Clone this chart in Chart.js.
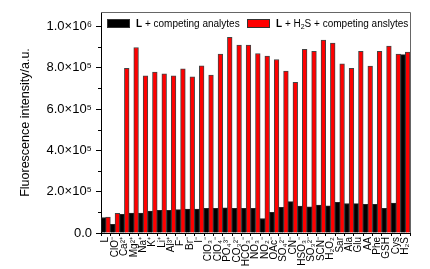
<!DOCTYPE html>
<html>
<head>
<meta charset="utf-8">
<script src="https://cdn.jsdelivr.net/npm/chart.js@4.4.0/dist/chart.umd.min.js"></script>
<style>
  html, body { margin: 0; padding: 0; background: #fff; }
  #chart { display: block; }
</style>
</head>
<body>
<canvas id="chart" width="430" height="269"></canvas>
<script>
// Categories (x axis)
const analytes = ["L", "ClO⁻", "Ca²⁺", "Mg²⁺", "Na⁺", "K⁺", "Li⁺", "Al³⁺", "F⁻", "Br⁻", "I⁻",
  "ClO₃⁻", "ClO₄⁻", "PO₄³⁻", "CO₃²⁻", "HCO₃⁻", "NO₃⁻", "NO₂⁻", "OAc⁻", "SO₄²⁻", "CN⁻",
  "HSO₃⁻", "SO₃²⁻", "SCN⁻", "H₂O₂", "Sar", "Ala", "Glu", "AA", "Phe", "GSH", "Cys", "H₂S"];

// L + competing analytes (black)
const probeOnly = [0.75e5, 0.42e5, 0.90e5, 0.97e5, 0.97e5, 1.06e5, 1.10e5, 1.10e5, 1.13e5, 1.16e5, 1.16e5,
  1.19e5, 1.20e5, 1.22e5, 1.19e5, 1.19e5, 1.19e5, 0.70e5, 1.00e5, 1.24e5, 1.52e5,
  1.30e5, 1.27e5, 1.35e5, 1.32e5, 1.48e5, 1.43e5, 1.42e5, 1.39e5, 1.39e5, 1.19e5, 1.45e5, 8.64e5];

// L + H2S + competing analytes (red)
const probeH2S = [0.77e5, 0.95e5, 7.97e5, 8.98e5, 7.61e5, 7.79e5, 7.71e5, 7.61e5, 7.95e5, 7.56e5, 8.09e5,
  7.64e5, 8.66e5, 9.47e5, 9.10e5, 9.10e5, 8.69e5, 8.56e5, 8.40e5, 7.84e5, 7.29e5,
  8.89e5, 8.79e5, 9.34e5, 9.19e5, 8.19e5, 7.97e5, 8.79e5, 8.08e5, 8.79e5, 9.05e5, 8.66e5, 8.76e5];

// y axis ticks
const yMajorTicks = [0, 2e5, 4e5, 6e5, 8e5, 1e6];
const yMinorTicks = [1e5, 3e5, 5e5, 7e5, 9e5];
const yMax = 1.07e6;

const supDigits = {"0":"⁰","1":"¹","2":"²","3":"³","4":"⁴","5":"⁵","6":"⁶","7":"⁷","8":"⁸","9":"⁹"};

function sciLabel(v) {
  if (v === 0) return "0.0";
  const exp = Math.floor(Math.log10(v) + 1e-9);
  const mant = v / Math.pow(10, exp);
  return mant.toFixed(1) + "×10" + String(exp).split("").map(d => supDigits[d]).join("");
}

// frame, minor ticks and the mixed-font legend
const extrasPlugin = {
  id: "extras",
  afterDraw(chart) {
    const ctx = chart.ctx;
    const a = chart.chartArea;
    const y = chart.scales.y;
    ctx.save();
    // top / right frame
    ctx.strokeStyle = "#666";
    ctx.lineWidth = 1;
    ctx.beginPath();
    ctx.moveTo(a.left, a.top + 0.5);
    ctx.lineTo(a.right + 0.5, a.top + 0.5);
    ctx.lineTo(a.right + 0.5, a.bottom);
    ctx.stroke();
    // minor y ticks
    ctx.strokeStyle = "#000";
    ctx.beginPath();
    yMinorTicks.forEach(v => {
      const py = Math.round(y.getPixelForValue(v)) + 0.5;
      ctx.moveTo(a.left - 3, py);
      ctx.lineTo(a.left, py);
    });
    ctx.stroke();

    // legend
    const boxY = a.top + 7;
    const textY = boxY + 5;
    const fam = "'Liberation Sans', Arial, sans-serif";
    function drawItem(x, color, parts) {
      ctx.fillStyle = color;
      ctx.fillRect(x, boxY, 23, 9);
      ctx.strokeStyle = "#333";
      ctx.strokeRect(x + 0.5, boxY + 0.5, 22, 8);
      let tx = x + 29;
      ctx.fillStyle = "#000";
      ctx.textBaseline = "middle";
      parts.forEach(p => {
        ctx.font = (p.bold ? "bold " : "") + (p.sub ? 7 : 10) + "px " + fam;
        ctx.fillText(p.t, tx, textY + (p.sub ? 3 : 0));
        tx += ctx.measureText(p.t).width;
      });
    }
    drawItem(a.left + 6, "#000", [{t: "L", bold: true}, {t: " + competing analytes"}]);
    drawItem(a.left + 146, "#ff0000", [{t: "L", bold: true}, {t: " + H"}, {t: "2", sub: true}, {t: "S + competing anslytes"}]);
    ctx.restore();
  }
};

new Chart(document.getElementById("chart"), {
  type: "bar",
  data: {
    labels: analytes,
    datasets: [
      {
        label: "L + competing analytes",
        data: probeOnly,
        backgroundColor: "#000000",
        borderColor: "#222222",
        borderWidth: 1,
        categoryPercentage: 1.0,
        barPercentage: 1.0
      },
      {
        label: "L + H₂S + competing anslytes",
        data: probeH2S,
        backgroundColor: "#ff0000",
        borderColor: "#444444",
        borderWidth: 1,
        categoryPercentage: 1.0,
        barPercentage: 1.0
      }
    ]
  },
  options: {
    responsive: false,
    animation: false,
    layout: { padding: { top: 12, right: 20, left: 18, bottom: 0 } },
    plugins: {
      legend: { display: false },
      tooltip: { enabled: false }
    },
    scales: {
      x: {
        offset: true,
        grid: { display: true, drawOnChartArea: false, offset: true, tickLength: 3, color: "#000" },
        border: { color: "#000", width: 1 },
        ticks: {
          autoSkip: false,
          maxRotation: 90,
          minRotation: 90,
          padding: 1,
          color: "#000",
          font: { family: "'Liberation Sans', Arial, sans-serif", size: 10 }
        },
        afterFit(s) { s.height = 36; }
      },
      y: {
        min: 0,
        max: yMax,
        afterBuildTicks(s) { s.ticks = yMajorTicks.map(v => ({ value: v })); },
        grid: { display: true, drawOnChartArea: false, tickLength: 5, color: "#000" },
        border: { color: "#000", width: 1 },
        ticks: {
          padding: 4,
          color: "#000",
          font: { family: "'Liberation Sans', Arial, sans-serif", size: 13 },
          callback: v => sciLabel(v)
        },
        title: {
          display: true,
          text: "Fluorescence intensity/a.u.",
          color: "#000",
          padding: { top: 0, bottom: 6 },
          font: { family: "'Liberation Sans', Arial, sans-serif", size: 12.5 }
        },
        afterFit(s) { s.width = 83; }
      }
    }
  },
  plugins: [extrasPlugin]
});
</script>
</body>
</html>
